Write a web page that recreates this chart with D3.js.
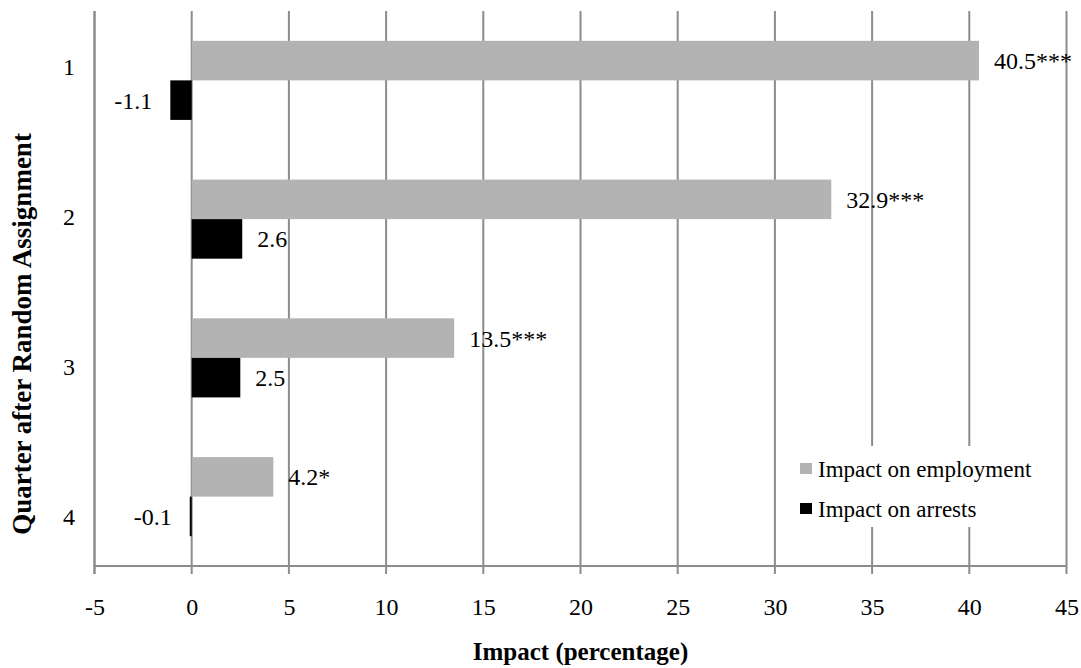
<!DOCTYPE html>
<html>
<head>
<meta charset="utf-8">
<script src="https://cdn.jsdelivr.net/npm/d3@7"></script>
<style>
  html, body { margin: 0; padding: 0; background: #fff; }
  svg text { font-family: "Liberation Serif", "Times New Roman", Times, serif; fill: #000; }
</style>
</head>
<body>
<svg id="chart" width="1081" height="668"></svg>
<script>
// ---- data ----
const quarters = ["1", "2", "3", "4"];
const seriesNames = ["Impact on employment", "Impact on arrests"];
const employment = [40.5, 32.9, 13.5, 4.2];
const arrests = [-1.1, 2.6, 2.5, -0.1];
const employmentLabels = ["40.5***", "32.9***", "13.5***", "4.2*"];
const arrestLabels = ["-1.1", "2.6", "2.5", "-0.1"];
const xTicks = [-5, 0, 5, 10, 15, 20, 25, 30, 35, 40, 45];

// ---- layout ----
const plot = { left: 94.5, right: 1066.5, top: 11, bottom: 566 };
const colors = { "Impact on employment": "#b3b3b3", "Impact on arrests": "#000000" };
const gridColor = "#8c8c8c";
const FONT = '"Liberation Serif", "Times New Roman", Times, serif';

const svg = d3.select("#chart");

const x = d3.scaleLinear().domain([-5, 45]).range([plot.left, plot.right]);
const y = d3.scaleBand().domain(quarters).range([plot.top, plot.bottom])
  .paddingInner(0.43).paddingOuter(0.215);
const ySub = d3.scaleBand().domain(seriesNames).range([0, y.bandwidth()]);
// category label positions (in the reference the labels sit on their own spacing)
const yLab = d3.scalePoint().domain(quarters).range([plot.top + 56, plot.bottom - 49]);

// grid lines
svg.append("g").selectAll("line").data(xTicks).join("line")
  .attr("x1", d => x(d)).attr("x2", d => x(d))
  .attr("y1", plot.top).attr("y2", plot.bottom + 8)
  .attr("stroke", gridColor).attr("stroke-width", 2);

// bottom axis line
svg.append("line")
  .attr("x1", plot.left).attr("x2", plot.right)
  .attr("y1", plot.bottom).attr("y2", plot.bottom)
  .attr("stroke", gridColor).attr("stroke-width", 2);

// x tick labels via d3 axis
const xAxis = d3.axisBottom(x).tickValues(xTicks).tickSize(0).tickPadding(0).tickFormat(d => String(d));
const gx = svg.append("g").attr("transform", `translate(0,${plot.bottom + 41})`).call(xAxis);
gx.select(".domain").remove();
gx.selectAll("text").attr("font-size", 24).attr("dy", "0.35em")
  .attr("font-family", FONT).attr("fill", "#000");

// category labels
svg.append("g").selectAll("text").data(quarters).join("text")
  .attr("x", 75).attr("y", d => yLab(d)).attr("dy", "0.35em")
  .attr("text-anchor", "end").attr("font-size", 24).attr("font-family", FONT).text(d => d);

// bars
const rows = quarters.map((q, i) => ({ q, i }));
const bars = svg.append("g");
const seriesData = [
  { name: seriesNames[0], vals: employment, labels: employmentLabels },
  { name: seriesNames[1], vals: arrests, labels: arrestLabels }
];
seriesData.forEach(s => {
  bars.append("g").selectAll("rect").data(rows).join("rect")
    .attr("x", d => x(Math.min(0, s.vals[d.i])))
    .attr("width", d => Math.max(Math.abs(x(s.vals[d.i]) - x(0)), 1.5))
    .attr("y", d => y(d.q) + ySub(s.name))
    .attr("height", ySub.bandwidth())
    .attr("fill", colors[s.name]);
  bars.append("g").selectAll("text").data(rows).join("text")
    .attr("x", d => s.vals[d.i] >= 0 ? x(s.vals[d.i]) + 15 : x(s.vals[d.i]) - 18)
    .attr("y", d => y(d.q) + ySub(s.name) + ySub.bandwidth() / 2)
    .attr("dy", "0.35em")
    .attr("text-anchor", d => s.vals[d.i] >= 0 ? "start" : "end")
    .attr("font-size", 24).attr("font-family", FONT)
    .text(d => s.labels[d.i]);
});

// left axis line (drawn over bars)
svg.append("line")
  .attr("x1", plot.left).attr("x2", plot.left)
  .attr("y1", plot.top).attr("y2", plot.bottom + 8)
  .attr("stroke", gridColor).attr("stroke-width", 2);

// legend
const lg = svg.append("g").attr("transform", "translate(790,446)");
lg.append("rect").attr("x", 0).attr("y", 0).attr("width", 272).attr("height", 81).attr("fill", "#fff");
seriesNames.forEach((n, i) => {
  const cy = 23 + i * 40;
  lg.append("rect").attr("x", 10).attr("y", cy - 6).attr("width", 12).attr("height", 11).attr("fill", colors[n]);
  lg.append("text").attr("x", 28).attr("y", cy).attr("dy", "0.35em").attr("font-size", 23)
    .attr("font-family", FONT).text(n);
});

// axis titles
svg.append("text")
  .attr("x", (plot.left + plot.right) / 2).attr("y", 660)
  .attr("text-anchor", "middle").attr("font-size", 25).attr("font-weight", "bold")
  .attr("font-family", FONT).text("Impact (percentage)");
svg.append("text")
  .attr("transform", `translate(22,334) rotate(-90)`).attr("dy", "0.35em")
  .attr("text-anchor", "middle").attr("font-size", 27).attr("font-weight", "bold")
  .attr("font-family", FONT).text("Quarter after Random Assignment");
</script>
</body>
</html>
